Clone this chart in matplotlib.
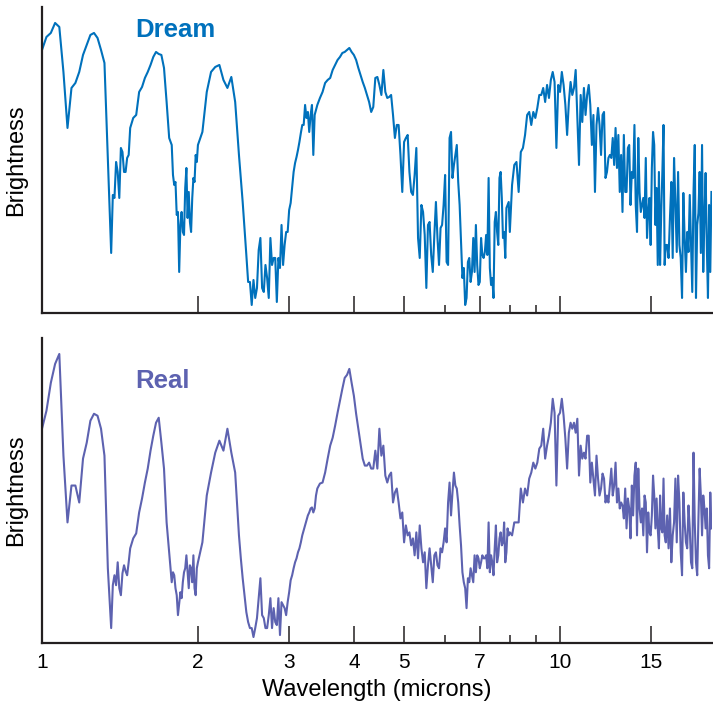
import numpy as np
import matplotlib
matplotlib.use('Agg')
import matplotlib.pyplot as plt
from matplotlib.ticker import FixedLocator, NullFormatter

plt.rcParams['font.family'] = ['Liberation Sans', 'DejaVu Sans']

# wavelength (microns), shared by both spectra
wavelength = [
    # 1 - 2 microns
    1.00, 1.02, 1.04, 1.06, 1.08, 1.10, 1.12, 1.14, 1.16, 1.18,
    1.20, 1.22, 1.24, 1.26, 1.28, 1.30, 1.32, 1.34, 1.36,
    1.37, 1.38, 1.39, 1.40, 1.41, 1.42, 1.43, 1.44, 1.45, 1.46, 1.47, 1.48,
    1.50, 1.52, 1.54, 1.56, 1.58, 1.60, 1.62, 1.64, 1.66, 1.68,
    1.70, 1.72, 1.74, 1.76, 1.78,
    1.79, 1.80, 1.81, 1.82, 1.83, 1.84, 1.85, 1.86, 1.87, 1.88,
    1.89, 1.90, 1.91, 1.92, 1.93, 1.94, 1.95, 1.96, 1.97, 1.98, 1.99, 2.00,
    # 2 - 4 microns
    2.04, 2.08, 2.12, 2.16, 2.20, 2.24, 2.28, 2.32, 2.36, 2.40,
    2.42, 2.44, 2.46, 2.48, 2.50, 2.52, 2.54, 2.56, 2.58, 2.60,
    2.62, 2.64, 2.66, 2.68, 2.70, 2.72, 2.74, 2.76, 2.78, 2.80,
    2.82, 2.84, 2.86, 2.88, 2.90, 2.92, 2.94, 2.96, 2.98, 3.00,
    3.02, 3.04, 3.06, 3.08, 3.10, 3.12, 3.14, 3.16, 3.18, 3.20,
    3.22, 3.24, 3.26, 3.28, 3.30, 3.32, 3.34, 3.36, 3.38,
    3.40, 3.44, 3.48, 3.52, 3.56, 3.60, 3.64, 3.68, 3.72, 3.76,
    3.80, 3.84, 3.88, 3.92, 3.96, 4.00,
    # 4 - 8 microns
    4.04, 4.08, 4.12, 4.16, 4.20, 4.24, 4.28, 4.32, 4.36, 4.40,
    4.44, 4.48, 4.52, 4.56, 4.60, 4.64, 4.68, 4.72, 4.76, 4.80,
    4.84, 4.88, 4.92, 4.96, 5.00, 5.04, 5.08, 5.12, 5.16, 5.20,
    5.24, 5.28, 5.32, 5.36, 5.40, 5.44, 5.48, 5.52, 5.56, 5.60,
    5.64, 5.68, 5.72, 5.76, 5.80, 5.84, 5.88, 5.92, 5.96, 6.00,
    6.04, 6.08, 6.12, 6.16, 6.20, 6.24, 6.28, 6.32, 6.36, 6.40,
    6.44, 6.48, 6.52, 6.56, 6.60, 6.64, 6.68, 6.72, 6.76, 6.80,
    6.84, 6.88, 6.92, 6.96, 7.00, 7.04, 7.08, 7.12, 7.16, 7.20,
    7.24, 7.28, 7.32, 7.36, 7.40, 7.44, 7.48, 7.52, 7.56, 7.60,
    7.64, 7.68, 7.72, 7.76, 7.80, 7.84, 7.88, 7.92, 7.96, 8.00,
    # 8 - 16 microns
    8.08, 8.16, 8.24, 8.32, 8.40, 8.48, 8.56, 8.64, 8.72, 8.80,
    8.88, 8.96, 9.04, 9.12, 9.20, 9.28, 9.36, 9.44, 9.52, 9.60,
    9.68, 9.76, 9.84, 9.92, 10.00, 10.08, 10.16, 10.24, 10.32, 10.40,
    10.48, 10.56, 10.64, 10.72, 10.80, 10.88, 10.96, 11.04, 11.12, 11.20,
    11.28, 11.36, 11.44, 11.52, 11.60, 11.68, 11.76, 11.84, 11.92, 12.00,
    12.08, 12.16, 12.24, 12.32, 12.40, 12.48, 12.56, 12.64, 12.72, 12.80,
    12.88, 12.96, 13.04, 13.12, 13.20, 13.28, 13.36, 13.44, 13.52, 13.60,
    13.68, 13.76, 13.84, 13.92, 14.00, 14.08, 14.16, 14.24, 14.32, 14.40,
    14.48, 14.56, 14.64, 14.72, 14.80, 14.88, 14.96, 15.04, 15.12, 15.20,
    15.28, 15.36, 15.44, 15.52, 15.60, 15.68, 15.76, 15.84, 15.92, 16.00,
    # 16 - 19.6 microns
    16.1, 16.2, 16.3, 16.4, 16.5, 16.6, 16.7, 16.8, 16.9, 17.0,
    17.1, 17.2, 17.3, 17.4, 17.5, 17.6, 17.7, 17.8, 17.9, 18.0,
    18.1, 18.2, 18.3, 18.4, 18.5, 18.6, 18.7, 18.8, 18.9, 19.0,
    19.1, 19.2, 19.3, 19.4, 19.5, 19.6,
]

# brightness, arbitrary units (no scale on the axis)
dream = [
    263, 276, 280, 290, 286, 241, 185, 225, 230, 241,
    258, 268, 278, 280, 275, 263, 250, 155, 60,
    118, 115, 151, 141, 115, 165, 161, 141, 141, 155, 158, 185,
    195, 198, 221, 226, 235, 241, 248, 256, 261, 259,
    258, 245, 211, 175, 168,
    138, 128, 131, 98, 101, 41, 88, 101, 81, 78,
    125, 145, 95, 121, 91, 81, 115, 135, 131, 158, 151, 168,
    181, 221, 241, 246, 248, 233, 225, 236, 211, 158,
    135, 111, 85, 58, 31, 31, 8, 33, 15, 25,
    63, 75, 25, 21, 48, 35, 15, 75, 48, 55,
    55, 11, 55, 45, 88, 48, 68, 81, 81, 103,
    110, 125, 141, 150, 156, 163, 171, 180, 188, 188,
    208, 195, 201, 181, 198, 208, 158, 198, 203,
    208, 215, 221, 230, 233, 235, 243, 248, 253, 256,
    260, 261, 263, 265, 261, 258,
    253, 245, 238, 231, 225, 218, 211, 201, 206, 235,
    236, 228, 218, 243, 221, 215, 216, 218, 198, 175,
    188, 188, 158, 121, 171, 175, 178, 141, 121, 118,
    138, 165, 75, 55, 108, 101, 78, 25, 88, 91,
    58, 41, 78, 111, 75, 48, 85, 88, 108, 138,
    51, 48, 175, 181, 135, 148, 158, 168, 131, 108,
    71, 35, 45, 8, 15, 51, 55, 31, 41, 75,
    41, 88, 48, 28, 31, 75, 58, 55, 61, 78,
    58, 135, 45, 28, 35, 15, 91, 101, 81, 68,
    135, 141, 115, 75, 81, 55, 105, 108, 111, 81,
    128, 148, 151, 121, 161, 165, 178, 198, 201, 188,
    201, 195, 205, 218, 218, 225, 211, 228, 215, 233,
    241, 231, 165, 228, 221, 241, 228, 208, 178, 211,
    231, 218, 225, 243, 195, 148, 218, 191, 225, 198,
    218, 228, 208, 168, 198, 121, 188, 205, 188, 158,
    198, 201, 135, 141, 155, 158, 155, 175, 148, 185,
    145, 178, 121, 158, 101, 178, 121, 121, 165, 168,
    108, 141, 135, 188, 108, 81, 175, 121, 101, 108,
    115, 95, 155, 75, 101, 115, 68, 145, 181, 168,
    88, 125, 48, 141, 48, 101, 141, 188, 48, 68,
    68, 55, 95, 131, 55, 155, 110, 61, 141, 68,
    55, 15, 120, 75, 41, 81, 61, 118, 68, 21,
    121, 168, 15, 88, 100, 141, 60, 168, 41, 95,
    140, 68, 15, 108, 41, 121,
]

real = [
    215, 233, 261, 280, 290, 188, 121, 158, 158, 141,
    185, 201, 223, 230, 228, 215, 188, 75, 15,
    58, 68, 58, 81, 55, 48, 70, 78, 72, 68, 81, 95,
    105, 110, 131, 145, 161, 175, 193, 208, 221, 226,
    201, 175, 121, 91, 61,
    71, 68, 55, 48, 28, 40, 51, 45, 61, 71,
    75, 88, 71, 55, 78, 75, 61, 88, 55, 48, 75, 81,
    101, 148, 171, 191, 203, 193, 215, 191, 171, 108,
    85, 65, 48, 31, 21, 15, 15, 6, 15, 25,
    45, 65, 28, 25, 15, 15, 28, 45, 15, 35,
    21, 18, 45, 8, 41, 38, 35, 28, 41, 51,
    63, 68, 75, 81, 85, 91, 95, 101, 108, 113,
    118, 123, 128, 131, 135, 136, 131, 135, 148,
    155, 160, 161, 171, 185, 198, 206, 218, 231, 243,
    255, 266, 269, 275, 261, 248,
    230, 215, 200, 185, 178, 178, 181, 175, 175, 193,
    175, 215, 188, 198, 168, 161, 168, 171, 141, 151,
    155, 141, 125, 131, 101, 118, 108, 111, 98, 105,
    88, 111, 85, 118, 95, 81, 91, 55, 78, 95,
    78, 61, 88, 91, 78, 75, 95, 91, 101, 115,
    101, 141, 161, 128, 151, 171, 158, 155, 141, 118,
    98, 71, 61, 55, 35, 65, 61, 75, 68, 61,
    88, 71, 88, 85, 75, 81, 88, 85, 85, 88,
    75, 121, 71, 88, 81, 68, 95, 118, 81, 88,
    105, 111, 98, 101, 121, 81, 91, 115, 108, 111,
    108, 121, 121, 121, 155, 141, 155, 148, 165, 171,
    181, 175, 181, 195, 198, 215, 185, 198, 208, 221,
    245, 231, 158, 228, 231, 245, 228, 205, 175, 211,
    221, 215, 221, 211, 225, 168, 198, 185, 191, 185,
    208, 208, 161, 181, 165, 148, 188, 165, 148, 155,
    170, 165, 141, 148, 141, 158, 175, 148, 158, 181,
    141, 155, 135, 141, 138, 125, 155, 115, 145, 135,
    105, 158, 128, 168, 181, 108, 175, 135, 121, 135,
    108, 148, 141, 91, 131, 111, 108, 128, 168, 148,
    115, 145, 115, 95, 148, 115, 111, 165, 108, 101,
    128, 95, 135, 81, 108, 121, 165, 101, 168, 141,
    91, 68, 151, 121, 101, 95, 138, 115, 81, 75,
    191, 121, 81, 68, 125, 175, 148, 108, 148, 135,
    115, 135, 88, 75, 151, 115,
]

major_ticks = [1, 2, 3, 4, 5, 7, 10, 15]
minor_ticks = [6, 8, 9]
tick_labels = ['1', '2', '3', '4', '5', '7', '10', '15']

dream_color = '#0071bc'
real_color = '#5d62b0'
axis_color = '#231f20'

assert len(wavelength) == len(dream) == len(real)

fig = plt.figure(figsize=(7.13, 7.03), dpi=100)
ax1 = fig.add_axes([0.0589, 0.5548, 0.9397, 0.4353])
ax2 = fig.add_axes([0.0589, 0.0853, 0.9397, 0.4339])

for ax, y, color, name, name_y in [(ax1, dream, dream_color, 'Dream', 276),
                                   (ax2, real, real_color, 'Real', 256)]:
    ax.plot(wavelength, y, color=color, lw=1.5)
    ax.set_xscale('log')
    ax.set_xlim(1, 19.65)
    ax.set_ylim(0, 306)
    ax.spines['top'].set_visible(False)
    ax.spines['right'].set_visible(False)
    for s in ['left', 'bottom']:
        ax.spines[s].set_linewidth(1.6)
        ax.spines[s].set_color(axis_color)
    ax.set_yticks([])
    ax.xaxis.set_major_locator(FixedLocator(major_ticks))
    ax.xaxis.set_minor_locator(FixedLocator(minor_ticks))
    ax.xaxis.set_minor_formatter(NullFormatter())
    ax.set_xticklabels(tick_labels)
    ax.tick_params(axis='x', which='major', direction='in', length=12,
                   width=1.1, color=axis_color, labelsize=15, pad=7)
    ax.tick_params(axis='x', which='minor', direction='in', length=6,
                   width=1.1, color=axis_color)
    ax.set_ylabel('Brightness', fontsize=17)
    ax.yaxis.set_label_coords(-0.022, 0.5)
    ax.text(1.512, name_y, name, color=color, fontsize=18.5,
            fontweight='bold', ha='left', va='baseline')

ax1.tick_params(axis='x', labelbottom=False)
ax2.set_xlabel('Wavelength (microns)', fontsize=17)
ax2.xaxis.set_label_coords(0.5, -0.118)

plt.savefig('out.png', dpi=100)
